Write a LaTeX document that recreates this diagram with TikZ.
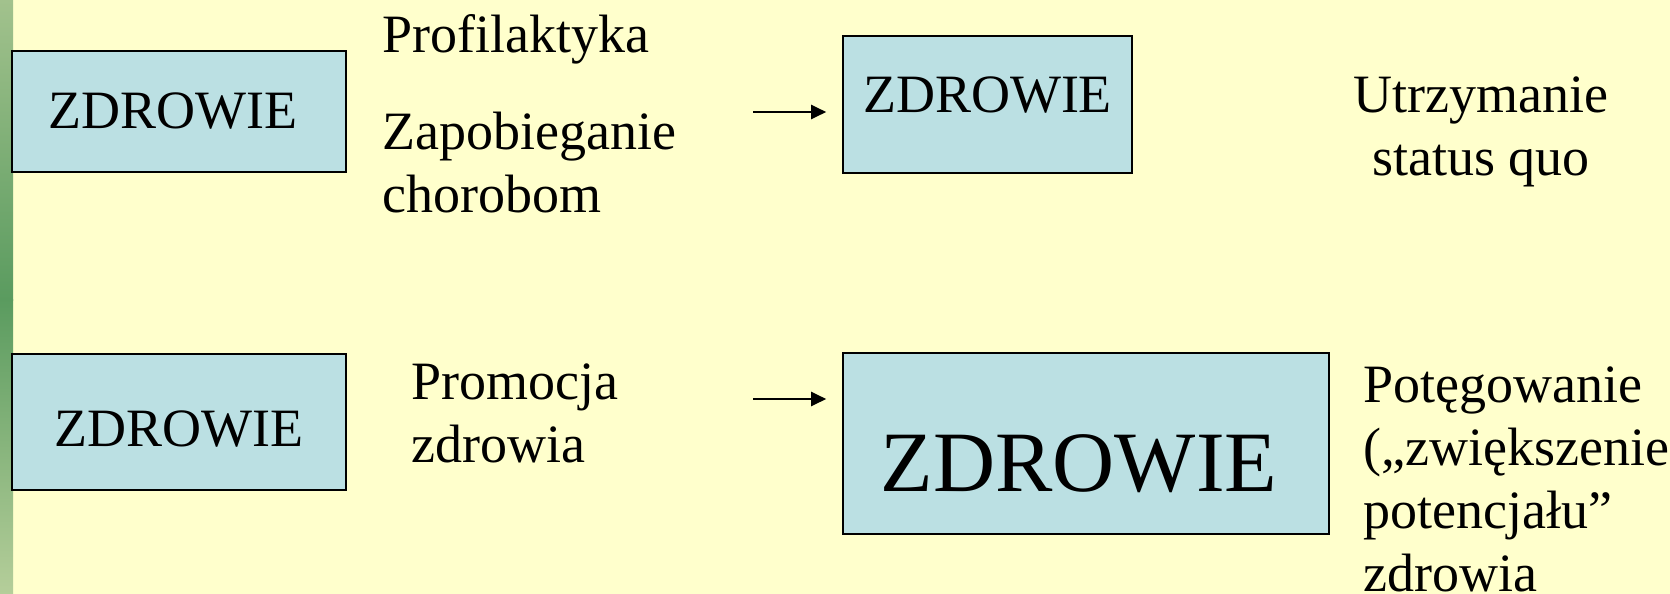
\documentclass[tikz,border=0pt]{standalone}
\usepackage{fontspec}
\setmainfont{Liberation Serif}
\usetikzlibrary{positioning, calc, arrows.meta}

\definecolor{slidebg}{HTML}{FFFFCC}
\definecolor{boxfill}{HTML}{BBE0E3}
\definecolor{stripA}{HTML}{A2C28D}
\definecolor{stripB}{HTML}{5A9B5F}
\definecolor{stripC}{HTML}{B5CE9A}

\begin{document}
\begin{tikzpicture}[
        x=0.5pt, y=-0.5pt,
        node distance=1cm,
        every node/.style={inner sep=0pt, font=\fontsize{27pt}{31.5pt}\selectfont},
        zbox/.style={rectangle, draw=black, line width=0.8pt, fill=boxfill},
        txt/.style={align=left, anchor=base west},
        arr/.style={-{Triangle[length=7.5pt, width=7pt]}, line width=1pt, shorten >=8pt}
    ]

    % Background
    \useasboundingbox (0,0) rectangle (1670,594);
    \fill[slidebg] (0,0) rectangle (1670,594);
    \shade[top color=stripA, bottom color=stripB] (0,0) rectangle (13,300);
    \shade[top color=stripB, bottom color=stripC] (0,299) rectangle (13,594);

    % Top row (multi-line texts sit on the baseline of their last line)
    \node[zbox, minimum width=167pt, minimum height=60.5pt] (zd1) at (179,111.5) {\hspace*{-6pt}ZDROWIE};
    \node[txt] (prof) at (382,52) {Profilaktyka};
    \node[txt] (zapob) at (382,212) {Zapobieganie\\chorobom};
    \node[zbox, minimum width=144.5pt, minimum height=68.5pt, text height=18pt, text depth=10.5pt] (zd2) at (987.5,104.5) {ZDROWIE};
    \node[align=center, anchor=base] (utrz) at (1481,175) {Utrzymanie\\status quo};

    % Bottom row
    \node[zbox, minimum width=167pt, minimum height=68pt, text height=24pt, text depth=0pt] (zd3) at (179,422) {ZDROWIE};
    \node[txt] (prom) at (411,462) {Promocja\\zdrowia};
    \node[zbox, minimum width=243pt, minimum height=90.5pt, text height=47.5pt, text depth=0pt,
          font=\fontsize{43pt}{50pt}\selectfont] (zd4) at (1086,443.5) {\hspace*{-7pt}ZDROWIE};
    \node[txt] (poteg) at (1363,591) {Potęgowanie\\(„zwiększenie\\potencjału”\\zdrowia};

    % Connections
    \coordinate (a1) at (753,112);
    \coordinate (a2) at (753,399);
    \draw[arr] (a1) -- (a1 -| zd2.west);
    \draw[arr] (a2) -- (a2 -| zd4.west);

\end{tikzpicture}
\end{document}
